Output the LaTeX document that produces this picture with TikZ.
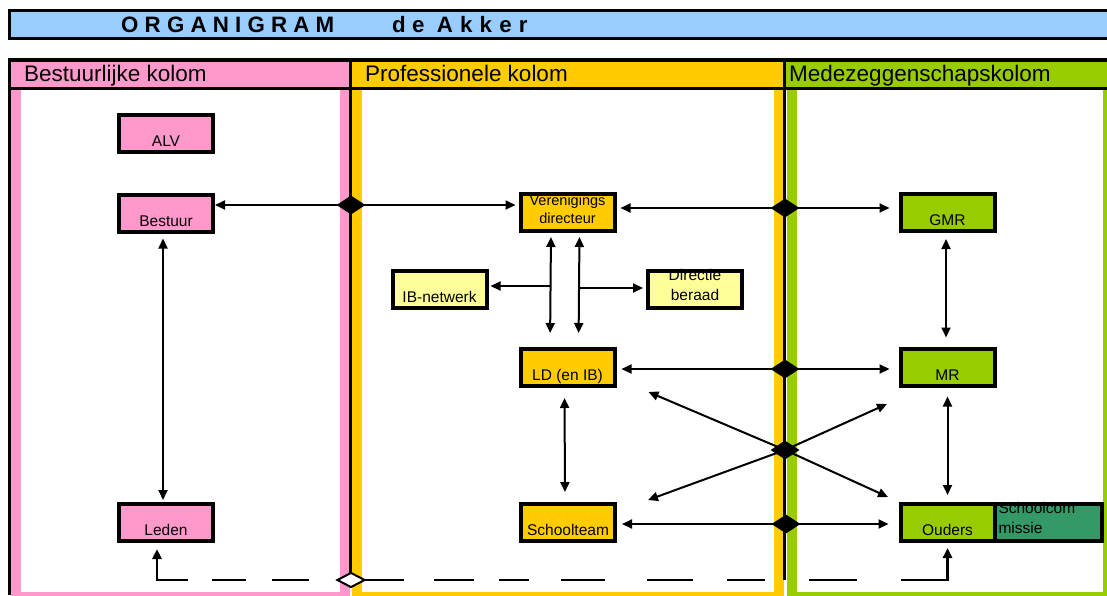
\documentclass[tikz,border=0pt]{standalone}
\usepackage{fontspec}
\setmainfont{Liberation Sans}
\usepackage{xcolor}
\usepackage{tikz}
\usetikzlibrary{arrows.meta,shapes.geometric,positioning,calc}
\definecolor{kolroze}{HTML}{FF99CC}
\definecolor{kolgeel}{HTML}{FFCC00}
\definecolor{kolgroen}{HTML}{99CC00}
\definecolor{donkergroen}{HTML}{339966}
\definecolor{lichtgeel}{HTML}{FFFF99}
\definecolor{titelblauw}{HTML}{99CCFF}

\begin{document}
\begin{tikzpicture}[x=1pt,y=-1pt,
        orgbox/.style={draw,line width=4pt,minimum width=94pt,minimum height=37pt,inner sep=2pt,
            text height=26pt,text depth=0pt,font=\fontsize{15.5}{18}\selectfont},
        tweeregels/.style={inner ysep=0pt,align=center,text height=29pt,text depth=8pt,
            font=\fontsize{15.5}{20}\selectfont},
        kop/.style={anchor=base west,inner sep=0pt,font=\fontsize{22.5}{26}\selectfont},
        titel/.style={anchor=base west,inner sep=0pt,font=\fontsize{22.3}{26}\selectfont\bfseries},
        conn/.style={line width=2pt,-{Triangle[length=10pt,width=9pt]}},
        dbl/.style={line width=2pt,{Triangle[length=10pt,width=9pt]}-{Triangle[length=10pt,width=9pt]}},
        streep/.style={line width=2.5pt,{Triangle[length=10pt,width=9pt]}-},
        knoop/.style={diamond,fill=black,minimum width=29pt,minimum height=19pt,inner sep=0pt}]
            \useasboundingbox (0,0) rectangle (1107,595);

            \draw[kolroze,line width=10pt] (16,80) rectangle (345,597);
            \draw[kolgeel,line width=10pt] (356.5,80) rectangle (778.5,597);
            \draw[kolgroen,line width=10pt] (791.5,80) rectangle (1108,597);

            \draw[fill=titelblauw,line width=3pt] (9.5,10) rectangle (1120,38.5);
            \node[titel] (titel1) at (121,32) {O R G A N I G R A M};
            \node[titel] (titel2) at (392,32) {d e\ \ A\hspace{1pt} k\hspace{1pt} k\hspace{1pt} e\hspace{1pt} r};

            \draw[fill=kolroze,line width=3.5pt] (9.5,60) rectangle (350.5,88.5);
            \draw[fill=kolgeel,line width=3.5pt] (350.5,60) rectangle (784.5,88.5);
            \draw[fill=kolgroen,line width=3.5pt] (784.5,60) rectangle (1120,88.5);
            \node[kop] (kopbestuur) at (24,81) {Bestuurlijke kolom};
            \node[kop] (kopprof) at (365,81) {Professionele kolom};
            \node[kop] (kopmz) at (789,81) {Medezeggenschapskolom};

            \draw[line width=2.7pt] (9.5,88) -- (9.5,595);
            \draw[line width=2.7pt] (350.5,88) -- (350.5,580);
            \draw[line width=2.7pt] (784.5,88) -- (784.5,580);

            \node[orgbox,fill=kolroze] (alv) at (166,133) {ALV};
            \node[orgbox,fill=kolroze] (bestuur) at (166,213) {Bestuur};
            \node[orgbox,fill=kolroze] (leden) at (166,522.5) {Leden};
            \node[orgbox,tweeregels,fill=kolgeel,
                font=\fontsize{14.5}{18}\selectfont] (vdir) at (567.5,212.5) {Verenigings\\directeur};
            \node[orgbox,fill=lichtgeel] (ib) at (439.5,289) {IB-netwerk};
            \node[orgbox,tweeregels,fill=lichtgeel] (dir) at (695,289.5) {Directie\\beraad};
            \node[orgbox,fill=kolgeel] (ld) at (567.5,367.5) {LD (en IB)};
            \node[orgbox,fill=kolgeel] (school) at (568,522.5) {Schoolteam};
            \node[orgbox,fill=kolgroen] (gmr) at (947.5,212.5) {GMR};
            \node[orgbox,fill=kolgroen] (mr) at (947.5,367) {MR};
            \node[orgbox,fill=kolgroen] (ouders) at (947.5,522.5) {Ouders};
            \node[orgbox,tweeregels,fill=donkergroen,align=left,inner xsep=4pt,text width=99pt,
                text height=9pt,text depth=28pt,right=-4pt of ouders] (comm) {Schoolcom\\missie};

            \coordinate (d1) at (351,205);
            \coordinate (d2) at (785,208);
            \coordinate (d3) at (785,369);
            \coordinate (d4) at (786,524);
            \coordinate (d5) at (785,450);
            \coordinate (d6) at (351,580);
            \coordinate (vl) at ([xshift=-16.5pt]vdir.south);
            \coordinate (vr) at ([xshift=12pt]vdir.south);

            \draw[conn] (d1) -- (d1 -| bestuur.east);
            \draw[conn,shorten >=3pt] (d1) -- (d1 -| vdir.west);
            \draw[conn,shorten >=4pt] (d2) -- (d2 -| vdir.east);
            \draw[conn,shorten >=9pt] (d2) -- (d2 -| gmr.west);
            \draw[conn,shorten >=5pt] (d3) -- (d3 -| ld.east);
            \draw[conn,shorten >=9pt] (d3) -- (d3 -| mr.west);
            \draw[conn,shorten >=5pt] (d4) -- (d4 -| school.east);
            \draw[conn,shorten >=10pt] (d4) -- (d4 -| ouders.west);

            \draw[conn] (d5) -- ([xshift=32pt,yshift=-4pt]ld.south east);
            \draw[conn] (d5) -- ([xshift=-10.5pt,yshift=5pt]ouders.north west);
            \draw[conn] (d5) -- ([xshift=31pt,yshift=2pt]school.north east);
            \draw[conn] (d5) -- ([xshift=-11.5pt,yshift=-16.5pt]mr.south west);

            \draw[dbl,shorten <=5pt,shorten >=2pt] ([xshift=-3pt]bestuur.south) -- ([xshift=-3pt]leden.north);
            \draw[dbl,shorten <=4pt,shorten >=14pt] (vl) -- ([xshift=-17.5pt]ld.north);
            \draw[dbl,shorten <=4pt,shorten >=14pt] (vr) -- ([xshift=11pt]ld.north);
            \draw[conn,shorten >=2pt] ([yshift=3pt]vl |- ib.east) -- ([yshift=3pt]ib.east);
            \draw[conn,shorten >=3pt] ([yshift=1.5pt]vr |- dir.west) -- ([yshift=1.5pt]dir.west);
            \draw[dbl,shorten <=10pt,shorten >=10pt] ([xshift=-3pt]ld.south) -- ([xshift=-3pt]school.north);
            \draw[dbl,shorten <=6pt,shorten >=9pt] ([xshift=-1.5pt]gmr.south) -- ([xshift=-1.5pt]mr.north);
            \draw[dbl,shorten <=9pt,shorten >=7pt] (mr.south) -- (ouders.north);

            \draw[streep,shorten <=6pt,dash pattern=on 53pt off 24pt on 34pt off 26pt on 37pt off 60pt]
                ([xshift=-9pt]leden.south) |- (d6);
            \draw[streep,shorten <=5pt,dash pattern=on 69pt off 44pt on 48pt off 44pt on 38pt off 34pt
                on 46pt off 42pt on 44pt off 32pt on 30pt off 25pt on 40pt off 30pt on 60pt off 60pt]
                (ouders.south) |- (d6);

            \node[knoop] (k1) at (d1) {};
            \node[knoop] (k2) at (d2) {};
            \node[knoop] (k3) at (d3) {};
            \node[knoop] (k4) at (d4) {};
            \node[knoop] (k5) at (d5) {};
            \node[knoop,fill=white,draw=black,line width=2pt,minimum width=28pt,minimum height=15pt] (k6) at (d6) {};
        \end{tikzpicture}
\end{document}
